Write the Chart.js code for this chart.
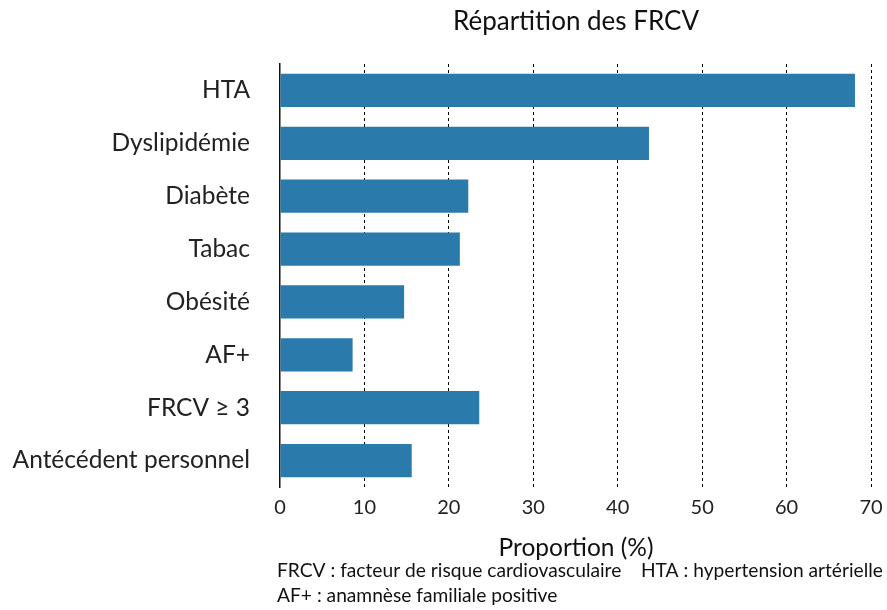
<!DOCTYPE html>
<html>
<head>
<meta charset="utf-8">
<script src="https://cdn.jsdelivr.net/npm/chart.js@4"></script>
<style>
  html, body { margin: 0; padding: 0; background: #fff; }
  #wrap { width: 887px; height: 610px; position: relative; }
</style>
</head>
<body>
<div id="wrap"><canvas id="chart"></canvas></div>
<script>
const categories = ["HTA", "Dyslipidémie", "Diabète", "Tabac", "Obésité", "AF+", "FRCV ≥ 3", "Antécédent personnel"]
const proportions = [68.1, 43.7, 22.3, 21.3, 14.7, 8.6, 23.6, 15.6]
const xTicks = [0, 10, 20, 30, 40, 50, 60, 70]
const titleText = "Répartition des FRCV"
const xTitleText = "Proportion (%)"
const footnotes = [
  "FRCV : facteur de risque cardiovasculaire    HTA : hypertension artérielle",
  "AF+ : anamnèse familiale positive"
]

const FONT = "Lato, 'Open Sans', sans-serif"
const BAR = "#2a7aab"

const textPlugin = {
  id: "texts",
  afterDraw(chart) {
    const { ctx } = chart
    ctx.save()
    ctx.fillStyle = "#111"
    ctx.textBaseline = "middle"
    ctx.textAlign = "center"
    ctx.font = `26px ${FONT}`
    ctx.fillText(titleText, 576, 22)
    ctx.font = `24.5px ${FONT}`
    ctx.fillText(xTitleText, 576, 548)
    ctx.textAlign = "left"
    ctx.font = `19.2px ${FONT}`
    ctx.fillText(footnotes[0], 277, 571)
    ctx.fillText(footnotes[1], 277, 596)
    ctx.restore()
  }
}

new Chart(document.getElementById("chart"), {
  type: "bar",
  data: {
    labels: categories,
    datasets: [{
      data: proportions,
      backgroundColor: BAR,
      barPercentage: 0.63,
      categoryPercentage: 1
    }]
  },
  options: {
    indexAxis: "y",
    responsive: true,
    maintainAspectRatio: false,
    animation: false,
    layout: { padding: { left: 0, right: 0, top: 64, bottom: 0 } },
    plugins: {
      legend: { display: false },
      tooltip: { enabled: false }
    },
    scales: {
      x: {
        min: 0,
        max: 70,
        z: 1,
        afterFit(scale) {
          scale.height = 123
          scale.paddingRight = 16
          scale.paddingLeft = 0
        },
        afterBuildTicks(scale) { scale.ticks = xTicks.map(v => ({ value: v })) },
        border: { display: false, dash: [3, 3] },
        grid: {
          color: (c) => c.tick && c.tick.value === 0 ? "rgba(0,0,0,0)" : "#000",
          lineWidth: 1,
          drawTicks: false
        },
        ticks: {
          color: "#222",
          padding: 9,
          font: { size: 20, family: FONT }
        }
      },
      y: {
        afterFit(scale) { scale.width = 280 },
        border: { display: true, color: "#111", width: 1.5 },
        grid: { display: false },
        ticks: {
          color: "#222",
          padding: 22,
          font: { size: 24.5, family: FONT }
        }
      }
    }
  },
  plugins: [textPlugin]
})
</script>
</body>
</html>
